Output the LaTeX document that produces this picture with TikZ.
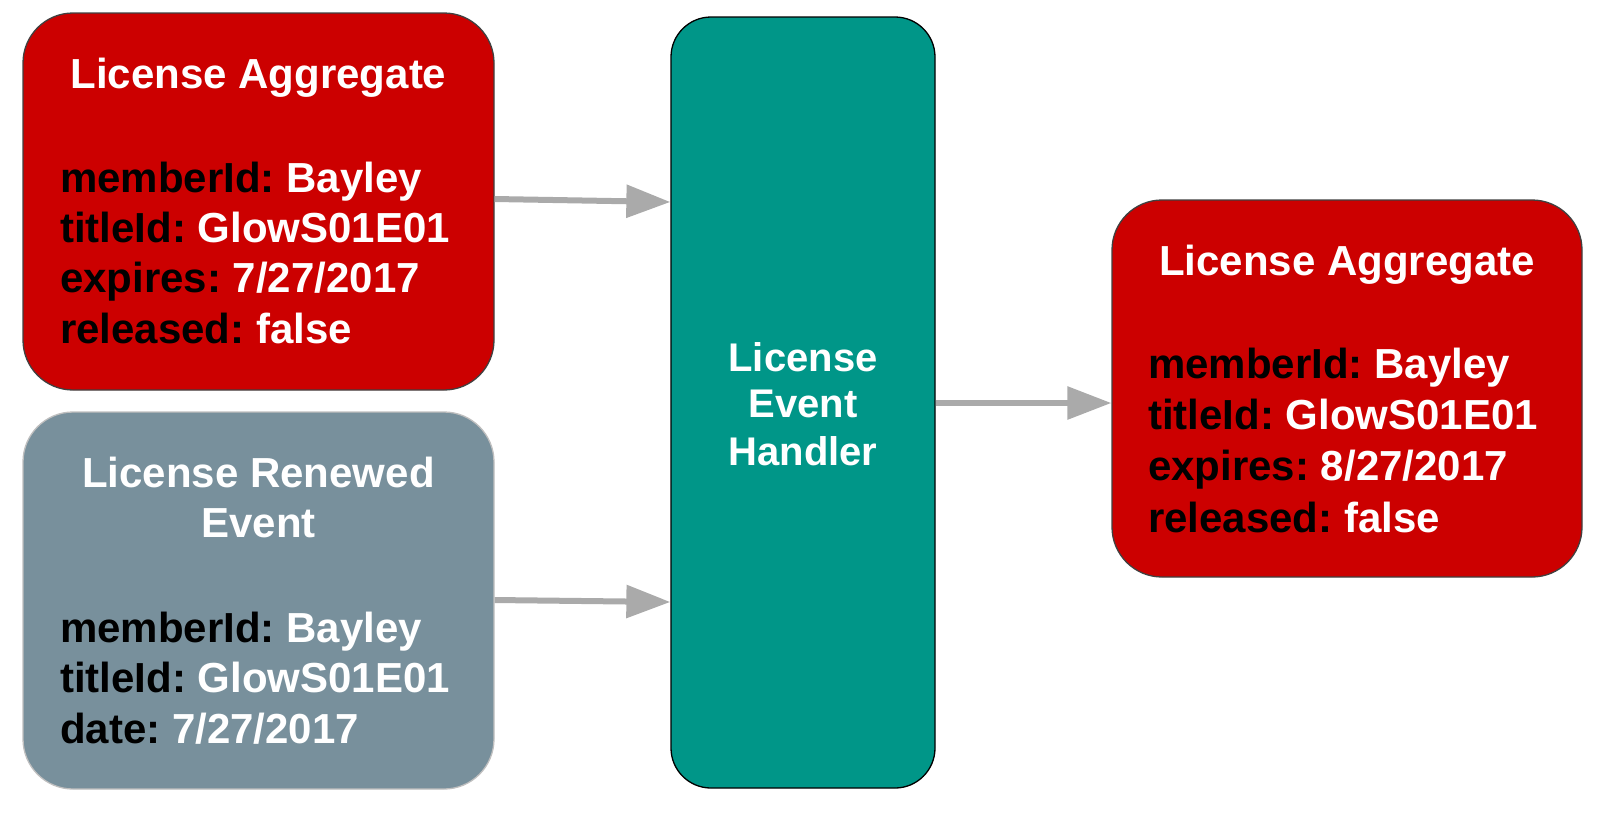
\documentclass[tikz,border=0pt]{standalone}
\usepackage{fontspec}
\setmainfont{Liberation Sans}
\usetikzlibrary{arrows.meta}
\frenchspacing
\definecolor{aggred}{HTML}{CC0000}
\definecolor{handlerteal}{HTML}{009688}
\definecolor{eventgrey}{HTML}{78909C}
\definecolor{arrowgrey}{HTML}{AAAAAA}
\tikzset{
  card/.style={rectangle, rounded corners=50pt, minimum width=471pt, minimum height=377pt, inner sep=0pt, line width=1.3pt},
  redcard/.style={card, fill=aggred, draw=black!75},
  greycard/.style={card, fill=eventgrey, draw=black!25},
  handlerbox/.style={rectangle, rounded corners=40pt, minimum width=264pt, minimum height=771pt, inner sep=0pt, fill=handlerteal, draw=black, line width=1.3pt},
  title/.style={anchor=base, inner sep=0pt, text=white, font=\fontsize{42pt}{50pt}\selectfont\bfseries\frenchspacing},
  htitle/.style={anchor=base, inner sep=0pt, text=white, font=\fontsize{40pt}{47pt}\selectfont\bfseries},
  field/.style={anchor=base west, inner sep=0pt, text=black, font=\fontsize{42pt}{50pt}\selectfont\bfseries\frenchspacing},
  flow/.style={draw=arrowgrey, line width=6pt, -{Triangle[length=44pt,width=32pt]}}
}
\newcommand{\kv}[2]{#1\ \textcolor{white}{#2}}
\begin{document}
\begin{tikzpicture}[x=1pt,y=-1pt]
\useasboundingbox (0,0) rectangle (1600,815);
% boxes
\node[redcard] (agg1) at (258.5,201.5) {};
\node[greycard] (evt) at (258.5,600.5) {};
\node[handlerbox] (hdl) at (803,402.5) {};
\node[redcard, minimum width=470pt] (agg2) at (1347,388.5) {};
% left aggregate text
\node[title] (agg1t) at (258.5,88) {License Aggregate};
\node[field] (agg1a) at (60,192) {\kv{memberId:}{Bayley}};
\node[field] (agg1b) at (60,242) {\kv{titleId:}{GlowS01E01}};
\node[field] (agg1c) at (60,292) {\kv{expires:}{7/27/2017}};
\node[field] (agg1d) at (60,343) {\kv{released:}{false}};
% event text
\node[title] (evtt1) at (258.5,487) {License Renewed};
\node[title] (evtt2) at (258.5,537) {Event};
\node[field] (evta) at (60,642) {\kv{memberId:}{Bayley}};
\node[field] (evtb) at (60,692) {\kv{titleId:}{GlowS01E01}};
\node[field] (evtc) at (60,743) {\kv{date:}{7/27/2017}};
% handler text
\node[htitle] (h1) at (803,371) {License};
\node[htitle] (h2) at (803,417) {Event};
\node[htitle] (h3) at (803,465) {Handler};
% right aggregate text
\node[title] (agg2t) at (1347,275) {License Aggregate};
\node[field] (agg2a) at (1148,378) {\kv{memberId:}{Bayley}};
\node[field] (agg2b) at (1148,429) {\kv{titleId:}{GlowS01E01}};
\node[field] (agg2c) at (1148,480) {\kv{expires:}{8/27/2017}};
\node[field] (agg2d) at (1148,532) {\kv{released:}{false}};
% connectors
\draw[flow] ([yshift=2.5pt]agg1.east) -- ([yshift=-0.5pt]agg1.east -| hdl.west);
\draw[flow] ([yshift=0.5pt]evt.east) -- ([yshift=-1.5pt]evt.east -| hdl.west);
\draw[flow] ([yshift=-0.5pt]hdl.east) -- ([yshift=-0.5pt]hdl.east -| agg2.west);
\end{tikzpicture}
\end{document}
